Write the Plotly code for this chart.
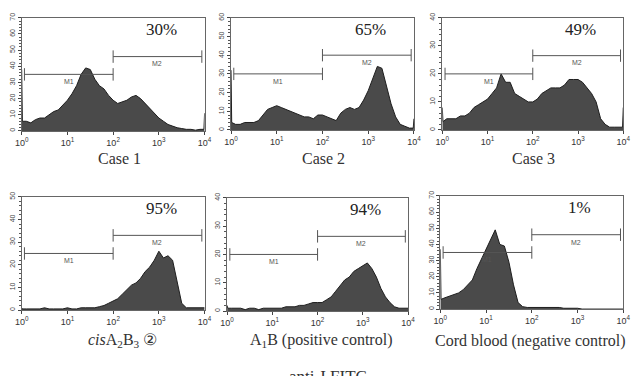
import math
import plotly.graph_objects as go

# ---------------- data ----------------
# channel positions (log10 of FITC fluorescence)
log_channels = [0, 0.015, 0.1, 0.2, 0.3, 0.4, 0.5, 0.6, 0.7, 0.8, 0.9,
                1.0, 1.1, 1.2, 1.3, 1.4, 1.5, 1.6, 1.7, 1.8, 1.9,
                2.0, 2.1, 2.2, 2.3, 2.4, 2.5, 2.6, 2.7, 2.8, 2.9,
                3.0, 3.1, 3.2, 3.3, 3.4, 3.5, 3.6, 3.7, 3.8, 3.9, 3.985, 4.0]

case1 = [38, 6, 6, 5, 7, 8, 8, 10, 12, 13, 16, 19, 23, 28, 35, 39, 38, 32, 28, 26, 22,
         19, 17, 18, 19, 21, 22, 20, 17, 14, 11, 8, 6, 4, 3, 2, 1.5, 1, 1, 0.5, 1, 1, 11]
case2 = [32, 4, 3, 3, 4, 4, 4, 5, 8, 11, 12, 13, 12, 11, 10, 9, 8, 7, 7, 6, 8,
         8, 7, 6, 5, 9, 11, 12, 11, 12, 16, 21, 28, 34, 33, 24, 14, 7, 3, 2, 1, 1, 6]
case3 = [8, 3, 4, 4, 4, 5, 5, 6, 8, 9, 10, 11, 13, 15, 20, 17, 17, 13, 12, 11, 10,
         10, 11, 13, 14, 15, 15, 15, 16, 18, 18, 18, 17, 15, 13, 10, 4, 2, 1, 1, 1, 1, 8]
cis_a2b3 = [1, 0.5, 0.5, 0.5, 0.5, 0.5, 1, 0.5, 0.5, 0.5, 0.5, 1, 0.5, 0.5, 1, 1, 1, 1, 1.5, 2, 3,
            4, 5, 7, 9, 11, 12, 14, 17, 19, 22, 26, 23, 24, 22, 12, 3, 1, 1, 1, 1, 1, 1]
a1b_pos = [2, 1, 1, 1, 1, 0.5, 1, 1, 0.5, 1, 1, 1, 1, 1, 1.5, 1.5, 1.5, 2, 2, 2.5, 3,
           3, 3, 4, 5, 7, 9, 11, 12, 14, 15, 16, 17, 15, 12, 8, 5, 3, 1.5, 1, 1, 1, 1]
cord_neg = [37, 6, 7, 8, 9, 10, 12, 15, 18, 25, 31, 36, 42, 49, 40, 39, 29, 15, 4, 1.5, 1,
            1, 1, 1, 1, 1, 1, 1, 0.5, 0.5, 0.5, 0.5, 0, 0, 0, 0, 0, 0, 0, 0, 0, 0, 0]

captions = ["Case 1", "Case 2", "Case 3",
            "<i>cis</i>A<sub>2</sub>B<sub>3</sub> \u2461",
            "A<sub>1</sub>B (positive control)",
            "Cord blood (negative control)"]
percents = ["30%", "65%", "49%", "95%", "94%", "1%"]
y_max = [70, 60, 40, 50, 40, 70]
m1_level = [35, 30, 20, 25, 20, 35]
m2_level = [46, 40, 26.5, 33, 26.4, 46]
m1_bounds = [1.15, 100]
m2_bounds = [100, 8700]
x_tickvals = [1, 10, 100, 1000, 10000]
x_ticktext = ["10<sup>0</sup>", "10<sup>1</sup>", "10<sup>2</sup>", "10<sup>3</sup>", "10<sup>4</sup>"]
axis_title = "anti-I FITC"

series = [case1, case2, case3, cis_a2b3, a1b_pos, cord_neg]
fl = [10 ** d for d in log_channels]

# ---------------- layout geometry (pixels) ----------------
W, H = 642, 376
px_x = [(15, 202), (229, 416), (445, 630), (15, 202), (225, 410), (443, 630)]
px_y = [(13, 128), (13, 127), (13, 127), (195, 310), (196, 311), (194, 309)]
cap_px = [(115, 156), (324, 156), (538, 156), (118, 341), (321, 341), (535, 341)]

fig = go.Figure()
annotations = []
layout = {}
serif = "Liberation Serif, Times New Roman, serif"
sans = "Liberation Sans, Arial, sans-serif"

for i in range(6):
    n = i + 1
    xa = "x" if n == 1 else f"x{n}"
    ya = "y" if n == 1 else f"y{n}"
    ymax = y_max[i]
    fig.add_trace(go.Scatter(
        x=fl, y=series[i], xaxis=xa, yaxis=ya, mode="lines",
        line=dict(color="#1e1e1e", width=1), fill="tozeroy", fillcolor="#4a4a4a",
        showlegend=False, hoverinfo="skip"))
    cap = 0.055 * ymax
    for (s, e), lev in ((m1_bounds, m1_level[i]), (m2_bounds, m2_level[i])):
        fig.add_trace(go.Scatter(
            x=[s, s, None, s, e, None, e, e],
            y=[lev - cap, lev + cap, None, lev, lev, None, lev - cap, lev + cap],
            xaxis=xa, yaxis=ya, mode="lines", line=dict(color="#555", width=1),
            showlegend=False, hoverinfo="skip"))
    for lab, (s, e), lev in (("M1", m1_bounds, m1_level[i]), ("M2", m2_bounds, m2_level[i])):
        annotations.append(dict(
            x=(math.log10(s) + math.log10(e)) / 2, y=lev - 0.065 * ymax,
            xref=xa, yref=ya, text=lab, showarrow=False,
            font=dict(family=sans, size=7, color="#555"), yanchor="middle"))
    annotations.append(dict(
        x=3.05, y=0.895 * ymax, xref=xa, yref=ya, text=percents[i], showarrow=False,
        font=dict(family=serif, size=17, color="#222")))
    cx, cy = cap_px[i]
    annotations.append(dict(
        x=cx / W, y=1 - cy / H, xref="paper", yref="paper", text=captions[i],
        showarrow=False, font=dict(family=serif, size=16, color="#333"),
        xanchor="center", yanchor="middle"))

    x0, x1 = px_x[i]
    t, b = px_y[i]
    layout["xaxis" if n == 1 else f"xaxis{n}"] = dict(
        type="log", range=[0, 4], domain=[x0 / W, x1 / W], anchor=ya,
        tickvals=x_tickvals, ticktext=x_ticktext, ticks="outside", ticklen=3,
        tickcolor="#444", showline=True, linecolor="#666", linewidth=1, mirror=True,
        showgrid=False, zeroline=False,
        tickfont=dict(family=sans, size=9, color="#333"))
    layout["yaxis" if n == 1 else f"yaxis{n}"] = dict(
        range=[0, ymax], domain=[1 - b / H, 1 - t / H], anchor=xa,
        tickvals=list(range(0, ymax + 1, 10)), ticks="outside", ticklen=3,
        tickcolor="#444", tickangle=-90,
        minor=dict(dtick=2, ticks="outside", ticklen=2, tickcolor="#555"),
        showline=True, linecolor="#666", linewidth=1, mirror=True,
        showgrid=False, zeroline=False,
        tickfont=dict(family=sans, size=7, color="#444"))

annotations.append(dict(
    x=328 / W, y=10 / H, xref="paper", yref="paper", text=axis_title,
    showarrow=False, font=dict(family=serif, size=17, color="#333"),
    xanchor="center", yanchor="top"))

fig.update_layout(
    width=W, height=H, margin=dict(l=0, r=0, t=0, b=0),
    paper_bgcolor="white", plot_bgcolor="white",
    annotations=annotations, **layout)

fig.write_html("out.html")
